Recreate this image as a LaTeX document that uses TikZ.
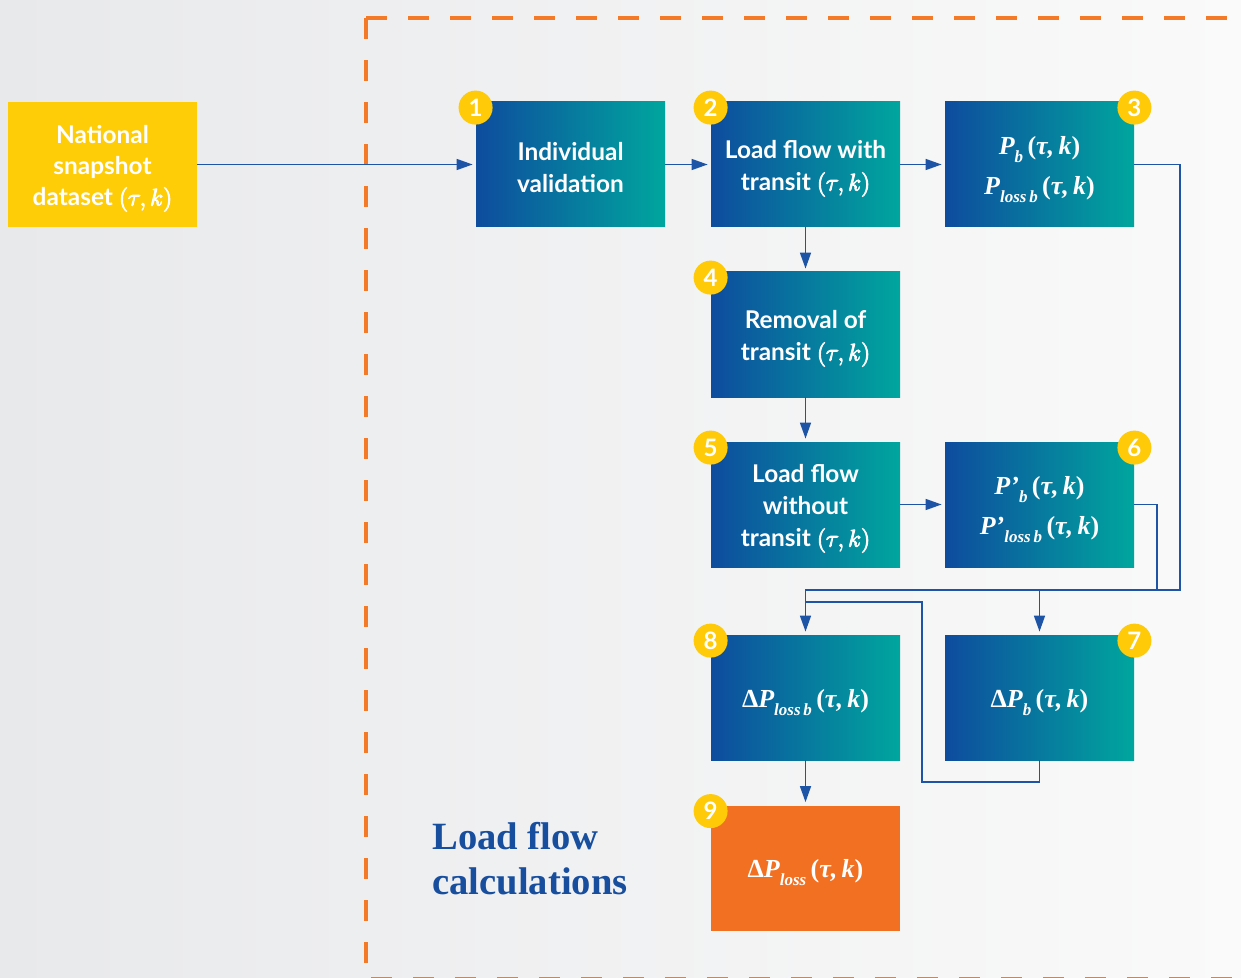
\documentclass[tikz,border=0pt]{standalone}
\usepackage{fontspec}
\setmainfont{Lato}
\newfontfamily\tms{Liberation Serif}
\newfontfamily\slab{Liberation Serif}
\usetikzlibrary{arrows.meta}

\definecolor{boxblue}{RGB}{14,76,158}
\definecolor{boxteal}{RGB}{0,166,158}
\definecolor{badgeyellow}{RGB}{255,202,8}
\definecolor{natyellow}{RGB}{255,204,8}
\definecolor{resorange}{RGB}{242,112,34}
\definecolor{dashorange}{RGB}{244,122,40}
\definecolor{linkblue}{RGB}{30,84,166}
\definecolor{titleblue}{RGB}{24,78,158}
\definecolor{bgleft}{RGB}{232,233,235}
\definecolor{bgright}{RGB}{250,250,250}

% heavier (tau, k): glyphs filled and stroked
\newcommand{\tauk}{\special{pdf:literal direct 0.45 w 2 Tr}$(\tau,k)$\special{pdf:literal direct 0 Tr}}
\newcommand{\tk}{\,{\upshape(}τ,\,k{\upshape)}}
\newcommand{\sub}[1]{\raisebox{-4pt}{\fontsize{8.5}{8.5}\selectfont #1}}
% pushes a text block down a little in its box
\newcommand{\lift}[1]{\rule{0pt}{#1}}

\begin{document}
\begin{tikzpicture}[
    x=0.5pt, y=-0.5pt,
    boxbase/.style={minimum width=94.5pt, minimum height=62.5pt, inner sep=0pt, align=center, text=white},
    stepbox/.style={boxbase, left color=boxblue, right color=boxteal, font=\fontsize{12.2}{16}\selectfont\bfseries},
    inputbox/.style={boxbase, fill=natyellow, font=\fontsize{12.2}{15.5}\selectfont\bfseries},
    mathbox/.style={boxbase, left color=boxblue, right color=boxteal, font=\tms\fontsize{13}{20}\selectfont\bfseries\itshape},
    resultbox/.style={boxbase, fill=resorange, font=\tms\fontsize{13}{20}\selectfont\bfseries\itshape},
    badge/.style={circle, fill=badgeyellow, text=white, minimum size=17pt, inner sep=0pt, font=\fontsize{12}{12}\selectfont\bfseries},
    heading/.style={text=titleblue, align=left, inner sep=0pt, font=\slab\fontsize{19.3}{22.5}\selectfont\bfseries},
    link/.style={draw=linkblue, line width=0.8pt},
    arrow/.style={link, -{Triangle[length=8pt,width=5.5pt]}, shorten >=1.5pt},
    dashline/.style={draw=dashorange, line width=2pt, dash pattern=on 10.5pt off 10.5pt},
  ]

  % Background
  \useasboundingbox (0,0) rectangle (1241,978);
  \clip (0,0) rectangle (1241,978);
  \fill[left color=bgleft, right color=bgright] (0,0) rectangle (1241,978);

  % Dashed frame
  \draw[dashline] (366,18) -- (1260,18);
  \draw[dashline] (366,18) -- (366,979) -- (1260,979);

  % Input
  \node[inputbox] (nat) at (102.5,164.5) {\lift{13pt}National\\snapshot\\dataset \tauk};

  % Steps
  \node[stepbox] (b1) at (570.5,164.5) {\lift{12pt}Individual\\validation};
  \node[stepbox] (b2) at (805.5,164.5) {\lift{13pt}Load flow with\\transit \tauk};
  \node[mathbox] (b3) at (1039.5,164.5) {\lift{14pt}P\sub{b}\tk\\P\sub{loss\,b}\tk};
  \node[stepbox] (b4) at (805.5,334.5) {\lift{13pt}Removal of\\transit \tauk};
  \node[stepbox] (b5) at (805.5,504.5) {\lift{13pt}Load flow\\without\\transit \tauk};
  \node[mathbox] (b6) at (1039.5,504.5) {\lift{14pt}P’\sub{b}\tk\\P’\sub{loss\,b}\tk};
  \node[mathbox] (b7) at (1039.5,697.5) {\lift{14pt}{\upshape Δ}P\sub{b}\tk};
  \node[mathbox] (b8) at (805.5,697.5) {\lift{14pt}{\upshape Δ}P\sub{loss\,b}\tk};
  \node[resultbox] (b9) at (805.5,868) {\lift{14pt}{\upshape Δ}P\sub{loss}\tk};

  % Title
  \node[heading, anchor=north west] (title) at (432,822) {Load flow\\calculations};

  % Connections
  \draw[arrow] (nat.east) -- (b1.west);
  \draw[arrow] (b1.east) -- (b2.west);
  \draw[arrow] (b2.east) -- (b3.west);
  \draw[arrow] (b2.south) -- (b4.north);
  \draw[arrow] (b4.south) -- (b5.north);
  \draw[arrow] (b5.east) -- (b6.west);
  \draw[arrow] (b8.south) -- (b9.north);

  \coordinate (bus) at (1180,590);
  \coordinate (bus6) at (1157,590);
  \coordinate (loop) at (922,782);
  \coordinate (join) at (805.5,602);
  \draw[arrow] (b3.east) -| (bus) -| (b8.north);
  \draw[link] (b6.east) -| (bus6);
  \draw[arrow] (b7.north |- bus) -- (b7.north);
  \draw[link] (b7.south) |- (loop) |- (join);

  % Step numbers
  \foreach \n/\corner in {1/north west,2/north west,3/north east,4/north west,5/north west,
                          6/north east,7/north east,8/north west,9/north west}
  \node[badge] (n\n) at ([yshift=-3pt]b\n.\corner) {\n};

\end{tikzpicture}
\end{document}
